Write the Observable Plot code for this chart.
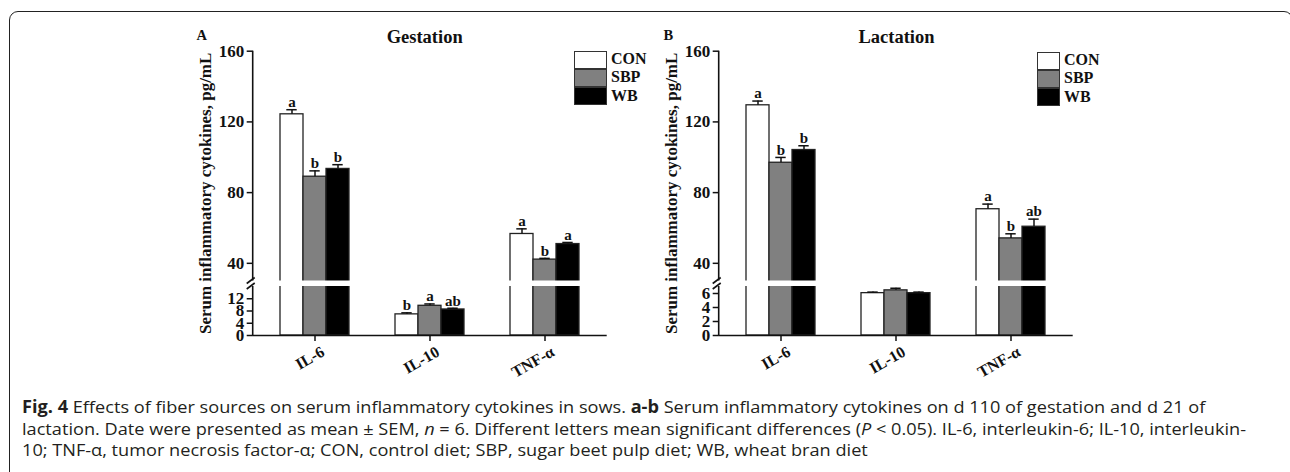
<!DOCTYPE html>
<html><head><meta charset="utf-8">
<script src="https://cdn.jsdelivr.net/npm/d3@7"></script>
<script src="https://cdn.jsdelivr.net/npm/@observablehq/plot@0.6"></script>
<style>
html,body{margin:0;padding:0;background:#fff;}
#page{position:relative;width:1290px;height:472px;overflow:hidden;background:#fff;}
.frame{position:absolute;left:8.5px;top:10.5px;width:1284px;height:540px;border:1.6px solid #222;border-radius:9px 9px 0 0;box-sizing:border-box;}
.panel{position:absolute;top:0;}
.serif{font-family:"Liberation Serif","Times New Roman",serif;font-weight:bold;color:#111;position:absolute;white-space:nowrap;line-height:1;}
.legrow{position:absolute;box-sizing:border-box;border:1.5px solid #333;}
.caption{position:absolute;left:22px;top:396px;font-family:"Open Sans",sans-serif;font-size:17px;line-height:21.5px;color:#231f20;white-space:nowrap;transform-origin:0 0;}
</style></head>
<body><div id="page"><div class="frame"></div></div>
<script>
// ---- data ----
const cytokines = ["IL-6", "IL-10", "TNF-α"];
const diets = ["CON", "SBP", "WB"];
const dietColors = ["#ffffff", "#808080", "#000000"];
const upperTicks = [40, 80, 120, 160];
const gestationLowTicks = [0, 4, 8, 12];
const lactationLowTicks = [0, 2, 4, 6];
const gestationMean = [[124.3, 89.0, 93.4], [6.9, 9.7, 8.5], [56.6, 42.1, 50.9]];
const gestationSEM = [[2.6, 3.3, 2.4], [0.5, 0.6, 0.4], [2.9, 0.7, 0.9]];
const gestationLetters = [["a", "b", "b"], ["b", "a", "ab"], ["a", "b", "a"]];
const lactationMean = [[129.4, 96.9, 104.1], [6.05, 6.45, 6.05], [70.6, 54.1, 60.7]];
const lactationSEM = [[2.4, 3.0, 2.4], [0.15, 0.3, 0.15], [2.9, 2.6, 4.3]];
const lactationLetters = [["a", "b", "b"], ["", "", ""], ["a", "b", "ab"]];
const breakAt = 30, yMax = 160;
const yLabel = "Serum inflammatory cytokines, pg/mL";

// x slots: outer pad, groups of 3 bars separated by 2 empty slots
const slots = ["pad-start"];
cytokines.forEach((c, i) => {
  if (i > 0) slots.push(`gap${i}-a`, `gap${i}-b`);
  diets.forEach(d => slots.push(`${c}|${d}`));
});
slots.push("pad-end");

const panels = [
  {letter: "A", title: "Gestation", mean: gestationMean, sem: gestationSEM, letters: gestationLetters,
   lowMax: 16, lowTicks: gestationLowTicks,
   left: 140, letterX: 196.5, titleX: 424.7, legX: 574.3, legW: 32.4, legTextX: 611, legY: 50.8},
  {letter: "B", title: "Lactation", mean: lactationMean, sem: lactationSEM, letters: lactationLetters,
   lowMax: 7, lowTicks: lactationLowTicks,
   left: 605.6, letterX: 663.5, titleX: 896.5, legX: 1036.7, legW: 23.5, legTextX: 1064, legY: 51.8}
];

function brokenAxis(lowMax) {
  return (index, scales, values, dims) => {
    const y = scales.y, x0 = dims.marginLeft;
    const g = d3.create("svg:g").attr("stroke", "#111").attr("stroke-width", 1.6).attr("fill", "none");
    g.append("line").attr("x1", x0).attr("x2", x0).attr("y1", y(0) + 0.8).attr("y2", y(lowMax));
    g.append("line").attr("x1", x0).attr("x2", x0).attr("y1", y(breakAt)).attr("y2", y(yMax));
    for (const v of [lowMax, breakAt]) {
      g.append("line").attr("x1", x0 - 6).attr("x2", x0 + 2).attr("y1", y(v) + 3).attr("y2", y(v) - 3);
    }
    return g.node();
  };
}

function panelPlot(p) {
  const rows = [];
  cytokines.forEach((c, i) => diets.forEach((d, j) => rows.push({
    slot: `${c}|${d}`, cytokine: c, diet: d, mean: p.mean[i][j], sem: p.sem[i][j], letter: p.letters[i][j]
  })));
  const groupTicks = cytokines.map(c => `${c}|SBP`);
  const W = 480, H = 385, mL = 112.7, mR = 13.3, mT = 50.7, mB = 50;
  const y0 = H - mB, lowTop = y0 - 49, upBottom = lowTop - 5.5;
  return Plot.plot({
    width: W, height: H, marginLeft: mL, marginRight: mR, marginTop: mT, marginBottom: mB,
    style: {background: "transparent", overflow: "visible", fontFamily: "'Liberation Serif','Times New Roman',serif",
            fontWeight: "bold", color: "#111", fontSize: "17px"},
    x: {type: "band", domain: slots, paddingInner: 0, paddingOuter: 0},
    y: {type: "linear", domain: [0, p.lowMax, breakAt, yMax], range: [y0, lowTop, upBottom, mT]},
    color: {type: "ordinal", domain: diets, range: dietColors},
    marks: [
      Plot.barY(rows, {x: "slot", y1: 0, y2: "mean", fill: "diet", stroke: "#222", strokeWidth: 1.3}),
      Plot.barY(slots, {x: d => d, y1: p.lowMax, y2: breakAt, fill: "white"}),
      Plot.ruleX(rows, {x: "slot", y1: "mean", y2: d => d.mean + d.sem, stroke: "#111", strokeWidth: 1.5}),
      Plot.tickY(rows, {x: "slot", y: d => d.mean + d.sem, stroke: "#111", strokeWidth: 1.5, insetLeft: 6.3, insetRight: 6.3}),
      Plot.text(rows.filter(r => r.letter), {x: "slot", y: d => d.mean + d.sem, text: "letter", dy: -7.5, fontSize: 15, fill: "#111"}),
      Plot.ruleY([0], {stroke: "#111", strokeWidth: 1.6}),
      Plot.axisY({ticks: [...p.lowTicks, ...upperTicks], tickSize: 6, tickPadding: 3, fontSize: 17, strokeWidth: 1.5,
                  label: yLabel, labelAnchor: "center", labelOffset: 54, labelArrow: "none"}),
      Plot.axisX({ticks: groupTicks, tickFormat: () => "", tickSize: 6, strokeWidth: 1.5, label: null}),
      Plot.axisX({ticks: groupTicks, tickFormat: s => s.split("|")[0], tickRotate: -30,
                  tickSize: 0, tickPadding: 9, fontSize: 16, label: null, dx: 8, dy: 6}),
      brokenAxis(p.lowMax)
    ]
  });
}

const page = document.getElementById("page");
function addText(txt, x, baseline, size, center) {
  const el = document.createElement("div");
  el.className = "serif";
  el.textContent = txt;
  el.style.fontSize = size + "px";
  el.style.top = (baseline - 0.8375 * size) + "px";
  el.style.left = x + "px";
  if (center) el.style.transform = "translateX(-50%)";
  page.appendChild(el);
}

for (const p of panels) {
  const holder = document.createElement("div");
  holder.className = "panel";
  holder.style.left = p.left + "px";
  holder.appendChild(panelPlot(p));
  page.appendChild(holder);
  addText(p.letter, p.letterX, 40, 14.5, false);
  addText(p.title, p.titleX, 43.3, 18.5, true);
  diets.forEach((d, i) => {
    const box = document.createElement("div");
    box.className = "legrow";
    box.style.left = p.legX + "px";
    box.style.top = (p.legY + i * 18.3) + "px";
    box.style.width = p.legW + "px";
    box.style.height = "17.8px";
    box.style.background = dietColors[i];
    page.appendChild(box);
    addText(d, p.legTextX, p.legY + 13.6 + i * 18.3, 16, false);
  });
}

const cap = document.createElement("div");
cap.className = "caption";
cap.innerHTML =
  '<div><b>Fig. 4</b> Effects of fiber sources on serum inflammatory cytokines in sows. <b>a-b</b> Serum inflammatory cytokines on d 110 of gestation and d 21 of</div>' +
  '<div>lactation. Date were presented as mean ± SEM, <i>n</i> = 6. Different letters mean significant differences (<i>P</i> &lt; 0.05). IL-6, interleukin-6; IL-10, interleukin-</div>' +
  '<div>10; TNF-α, tumor necrosis factor-α; CON, control diet; SBP, sugar beet pulp diet; WB, wheat bran diet</div>';
page.appendChild(cap);
function fitCaption() {
  cap.style.transform = "none";
  const w = cap.getBoundingClientRect().width;
  if (w > 0) cap.style.transform = `scaleX(${1224 / w})`;
}
fitCaption();
if (document.fonts && document.fonts.ready) document.fonts.ready.then(fitCaption);
</script>
</body></html>
